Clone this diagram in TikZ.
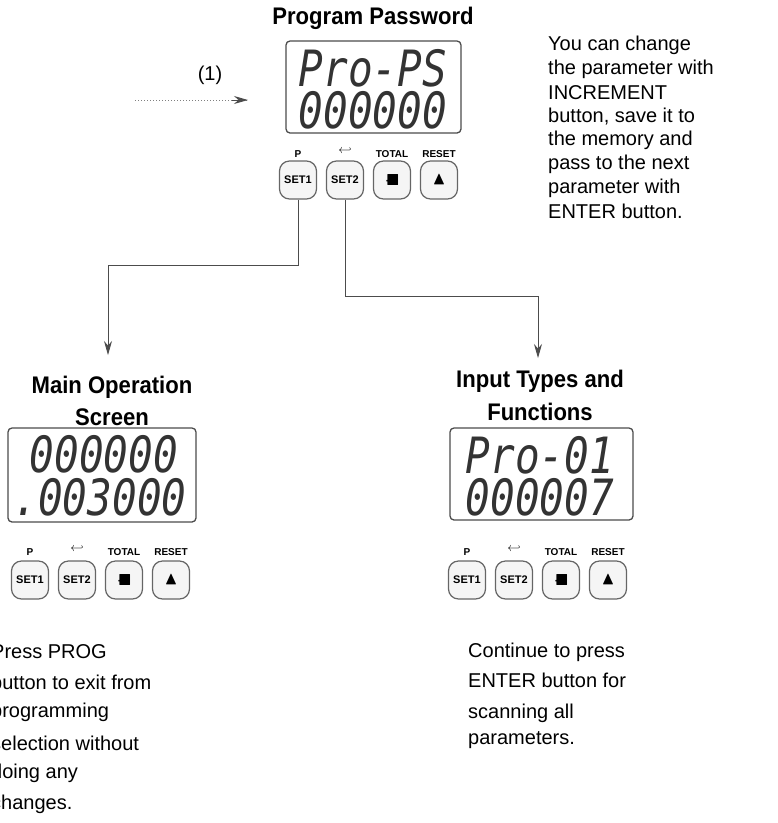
\documentclass[tikz,border=0pt]{standalone}
\usepackage{fontspec}
\setmainfont{Liberation Sans}
\newfontfamily\segfont{DejaVu Sans Mono}
\usepackage{amssymb}
\usetikzlibrary{arrows.meta}
\tikzset{
 ttl/.style={font=\bfseries\fontsize{24}{26}\selectfont, xscale=0.92},
 body/.style={font=\fontsize{20}{22}\selectfont, anchor=west, inner sep=0pt},
 disp/.style={draw=black!70, line width=1.3pt, rounded corners=4pt},
 seg/.style={font=\segfont\itshape\fontsize{50}{50}\selectfont, inner sep=0pt, text=black!80, xscale=0.82},
 btn/.style={draw=black!60, line width=1.2pt, rounded corners=10pt, minimum width=37pt, minimum height=38pt, fill=black!4, font=\bfseries\fontsize{11}{11}\selectfont},
 blab/.style={font=\bfseries\fontsize{10}{10}\selectfont, inner sep=0pt},
 conn/.style={draw=black!70, line width=0.9pt},
 tip/.style={-{Stealth[length=14pt,width=8pt]}}
}
\newcommand{\buttons}[5]{%
 \node[btn] (#1a) at (#2,#3) {SET1};
 \node[btn] (#1b) at (#2+#4,#3) {SET2};
 \node[btn] (#1c) at (#2+2*#4,#3) {\fontsize{16}{16}\selectfont$\cdot\!\blacksquare$};
 \node[btn] (#1d) at (#2+3*#4,#3) {\fontsize{18}{18}\selectfont$\blacktriangle$};
 \node[blab] at (#2,#3-#5) {P};
 \node[blab,font=\bfseries\fontsize{13}{13}\selectfont] at (#2+#4,#3-#5-3) {$\hookleftarrow$};
 \node[blab] at (#2+2*#4,#3-#5) {TOTAL};
 \node[blab] at (#2+3*#4,#3-#5) {RESET};
}
\begin{document}
\begin{tikzpicture}[x=1pt,y=-1pt]
\useasboundingbox (0,0) rectangle (778,823);
\clip (0,0) rectangle (778,823);
\node[ttl] (t1) at (373,18) {Program Password};
\draw[disp] (286,41) rectangle (461,133);
\node[seg] (d1) at (373,68) {Pro-PS};
\node[seg] (d2) at (373,110) {000000};
\buttons{T}{298}{180}{47}{26}
\coordinate (s) at (135,100);
\coordinate (e) at (248,100);
\draw[black!50, dotted, line width=1pt] (s) -- (e);
\draw[black!70,tip, line width=1pt] (232,100) -- (e);
\node[font=\fontsize{20}{22}\selectfont] at (210,75) {(1)};
\foreach \t [count=\i] in {You can change,the parameter with,INCREMENT,{button, save it to},the memory and,pass to the next,parameter with,ENTER button.}
  \node[body] at (548,22+23.7*\i) {\t};
\node[ttl] at (112,387) {Main Operation};
\node[ttl] at (112,417) {Screen};
\draw[disp] (8,428) rectangle (196,522);
\node[seg] at (104,454) {000000};
\node[seg] at (100,497) {.003000};
\buttons{L}{30}{580}{47}{28}
\foreach \t [count=\i] in {Press PROG,button to exit from,programming,selection without,doing any,changes.}
  \node[body] at (-9,621+30.5*\i) {\t};
\node[ttl] at (540,381) {Input Types and};
\node[ttl] at (540,412) {Functions};
\draw[disp] (450,428) rectangle (633,520);
\node[seg] at (540,455) {Pro-01};
\node[seg] at (540,497) {000007};
\buttons{R}{467}{580}{47}{28}
\foreach \t/\y in {Continue to press/652,ENTER button for/680,scanning all/713,parameters./740}
  \node[body] at (468,\y) {\t};
\draw[conn,tip] (Ta.south) -- (298,265) -| (108,355);
\draw[conn,tip] (Tb.south) -- (345,296) -| (538,358);
\end{tikzpicture}
\end{document}
